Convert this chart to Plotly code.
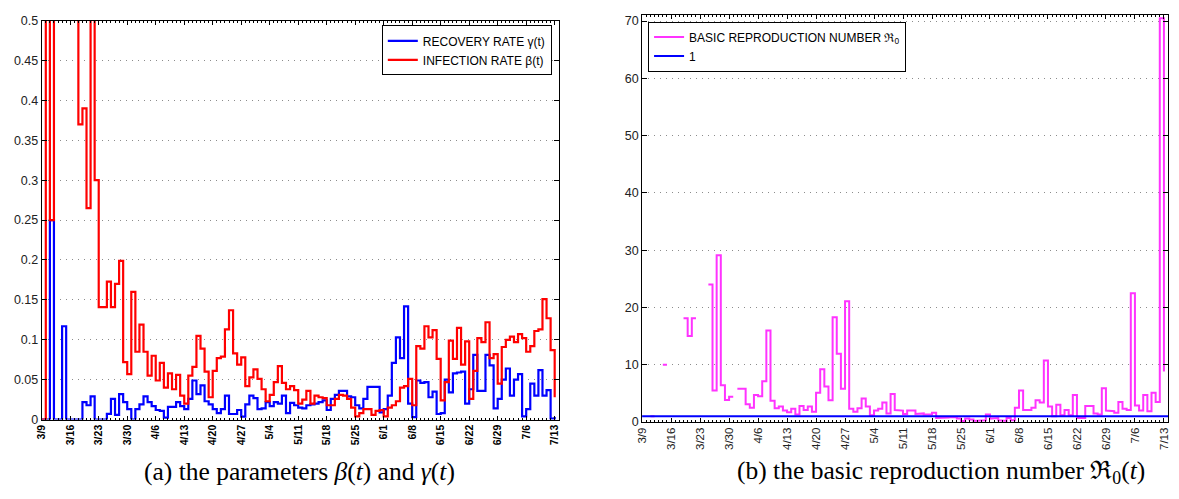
import plotly.graph_objects as go

# ---------------- data ----------------
tick_labels = ["3/9", "3/16", "3/23", "3/30", "4/6", "4/13", "4/20", "4/27", "5/4", "5/11",
               "5/18", "5/25", "6/1", "6/8", "6/15", "6/22", "6/29", "7/6", "7/13"]
tick_days = [0, 7, 14, 21, 28, 35, 42, 49, 56, 63, 70, 77, 84, 91, 98, 105, 112, 119, 126]

# infection rate beta(t), one value per day from 3/9 to 7/13
beta = [0, 1.0, 0.25, 1.0, 1.0, 1.17, 1.0, 1.0, 1.0, 0.37,
        0.39, 0.265, 0.525, 0.30, 0.141, 0.141, 0.173, 0.141, 0.170, 0.199,
        0.072, 0.057, 0.160, 0.085, 0.119, 0.085, 0.055, 0.080, 0.049, 0.071,
        0.040, 0.058, 0.038, 0.056, 0.030, 0.020, 0.055, 0.066, 0.105, 0.089,
        0.060, 0.028, 0.061, 0.077, 0.079, 0.113, 0.137, 0.083, 0.069, 0.078,
        0.042, 0.053, 0.063, 0.051, 0.038, 0.023, 0.031, 0.047, 0.067, 0.046,
        0.038, 0.042, 0.037, 0.020, 0.025, 0.036, 0.020, 0.030, 0.028, 0.027,
        0.018, 0.018, 0.026, 0.031, 0.030, 0.026, 0.015, 0.004, 0.008, 0.013,
        0.013, 0.006, 0.011, 0.012, 0.004, 0.015, 0.018, 0.023, 0.040, 0.042,
        0.051, 0.018, 0.092, 0.089, 0.117, 0.103, 0.112, 0.076, 0.024, 0.047,
        0.099, 0.076, 0.115, 0.069, 0.098, 0.026, 0.061, 0.102, 0.097, 0.122,
        0.077, 0.082, 0.045, 0.091, 0.100, 0.104, 0.097, 0.107, 0.102, 0.085,
        0.092, 0.111, 0.113, 0.151, 0.127, 0.087, 0.028]

# recovery rate gamma(t)
gamma = [0, 0, 0.25, 0, 0, 0.117, 0, 0, 0, 0,
         0.022, 0.018, 0.029, 0, 0, 0, 0.0072, 0.026, 0.006, 0.032,
         0.022, 0.013, 0, 0.013, 0.019, 0.029, 0.022, 0.017, 0.012, 0.011,
         0.0025, 0.016, 0.016, 0.022, 0.017, 0.013, 0.026, 0.049, 0.032, 0.043,
         0.023, 0.019, 0.013, 0.008, 0.013, 0.030, 0.007, 0.007, 0.012, 0.0037,
         0.019, 0.030, 0.027, 0.013, 0.014, 0.022, 0.017, 0.022, 0.020, 0.030,
         0.008, 0.021, 0.018, 0.015, 0.014, 0.018, 0.019, 0.020, 0.022, 0.024,
         0.012, 0.026, 0.031, 0.036, 0.036, 0.029, 0.028, 0.018, 0.014, 0.026,
         0.041, 0.041, 0.041, 0.009, 0.013, 0.030, 0.071, 0.103, 0.077, 0.142,
         0.020, 0.003, 0.049, 0.046, 0.047, 0.028, 0.035, 0.007, 0.008, 0.050,
         0.034, 0.058, 0.059, 0.060, 0.020, 0.038, 0.081, 0.036, 0.036, 0.081,
         0.068, 0.014, 0.026, 0.050, 0.064, 0.030, 0.050, 0.057, 0.004, 0.013,
         0.045, 0.030, 0.062, 0.030, 0.037, 0.0012, 0.0032]

# basic reproduction number R0(t) (None = undefined / infinite)
r0 = [None, None, 1.0, None, None, 10.0, None, None, None, None,
      18.1, 15.0, 18.1, None, None, None, 24.0, 5.5, 29.1, 6.4,
      3.85, 4.4, None, 5.8, 5.8, 3.1, 2.5, 4.7, 4.5, 7.1,
      16.0, 3.7, 2.4, 2.7, 2.0, 1.7, 2.3, 1.3, 2.8, 2.1,
      2.7, 1.8, 5.1, 9.2, 6.2, 3.8, 18.3, 11.9, 5.8, 21.1,
      2.3, 1.8, 2.4, 4.1, 2.7, 1.2, 2.0, 2.3, 3.4, 1.5,
      4.9, 2.1, 2.0, 1.4, 2.0, 2.0, 1.4, 1.5, 1.3, 1.3,
      1.6, 0.7, 0.7, 0.8, 0.85, 0.85, 0.6, 0.2, 0.6, 0.45,
      0.2, 0.2, 0.3, 1.3, 0.6, 0.7, 0.3, 0.2, 0.7, 0.3,
      2.5, 5.5, 2.1, 2.1, 2.5, 3.8, 3.4, 10.75, 2.7, 1.0,
      3.0, 1.2, 2.1, 1.2, 4.7, 0.7, 0.7, 2.8, 2.8, 1.5,
      1.3, 5.9, 2.0, 1.9, 1.6, 3.5, 2.3, 2.1, 22.5, 2.9,
      2.0, 4.7, 1.9, 5.1, 3.5, 70.5, 8.8]

threshold = 1

days = list(range(len(beta)))
x_end = len(beta)


def stair_path(vals):
    """MATLAB-style stairs path that skips undefined values."""
    xs, ys = [], []
    prev = None
    n = len(vals)
    for i, v in enumerate(vals):
        if v is None:
            prev = None
            continue
        if prev is None and xs:
            xs.append(None)
            ys.append(None)
        xs.append(i)
        ys.append(v)
        if i < n - 1:
            xs.append(i + 1)
            ys.append(v)
        prev = v
    return xs, ys


fig = go.Figure()

fig.add_trace(go.Scatter(x=days, y=gamma, mode="lines", line=dict(color="#0000FF", width=2.2, shape="hv"),
                         name="RECOVERY RATE γ(t)", xaxis="x", yaxis="y", legend="legend"))
fig.add_trace(go.Scatter(x=days, y=beta, mode="lines", line=dict(color="#FF0000", width=2.2, shape="hv"),
                         name="INFECTION RATE β(t)", xaxis="x", yaxis="y", legend="legend"))

rx, ry = stair_path(r0)
fig.add_trace(go.Scatter(x=rx, y=ry, mode="lines", line=dict(color="#FF33FF", width=2),
                         connectgaps=False,
                         name="BASIC REPRODUCTION NUMBER ℜ<sub>0</sub>", xaxis="x2", yaxis="y2",
                         legend="legend2"))
fig.add_trace(go.Scatter(x=[0, x_end], y=[threshold, threshold], mode="lines",
                         line=dict(color="#0000FF", width=2),
                         name="1", xaxis="x2", yaxis="y2", legend="legend2"))

W, H = 1179, 499
tick_font = dict(family="Liberation Sans, Arial, sans-serif", size=12.5, color="#222222")

common_x = dict(range=[0, x_end], tickmode="array", tickvals=tick_days, ticktext=tick_labels,
                tickangle=-90, ticks="inside", ticklen=4, tickcolor="black",
                showline=True, linecolor="black", linewidth=1, mirror="ticks",
                showgrid=False, zeroline=False,
                minor=dict(dtick=1, tick0=0, ticks="inside", ticklen=2, tickcolor="black", showgrid=False))
common_y = dict(ticks="inside", ticklen=5, tickcolor="black", showline=True, linecolor="black",
                linewidth=1, mirror="ticks", showgrid=True, gridcolor="#8c8c8c", griddash="1px,5px",
                gridwidth=1, zeroline=False, tickfont=tick_font)

fig.update_layout(
    width=W, height=H, margin=dict(l=0, r=0, t=0, b=0),
    paper_bgcolor="white", plot_bgcolor="white",
    xaxis=dict(domain=[35 / W, 556 / W], anchor="y",
               tickfont=dict(family="Liberation Sans, Arial, sans-serif", size=10.5, color="black",
                             weight="bold"), **common_x),
    yaxis=dict(domain=[1 - 424.5 / H, 1 - 14 / H], anchor="x", range=[0, 0.5], tick0=0, dtick=0.05,
               **common_y),
    xaxis2=dict(domain=[640 / W, 1170 / W], anchor="y2",
                tickfont=dict(family="Liberation Sans, Arial, sans-serif", size=11.5, color="#222222"),
                **common_x),
    yaxis2=dict(domain=[1 - 427 / H, 1 - 8.3 / H], anchor="x2", range=[0, 71.05], tick0=0, dtick=10,
                **common_y),
    legend=dict(x=549 / W, y=1 - 19 / H, xanchor="right", yanchor="top", bgcolor="white",
                bordercolor="black", borderwidth=1, tracegroupgap=0, itemwidth=30,
                font=dict(family="Liberation Sans, Arial, sans-serif", size=12, color="black")),
    legend2=dict(x=646 / W, y=1 - 15 / H, xanchor="left", yanchor="top", bgcolor="white",
                 bordercolor="black", borderwidth=1, tracegroupgap=0, itemwidth=30,
                 font=dict(family="Liberation Sans, Arial, sans-serif", size=12, color="black")),
    annotations=[
        dict(text="(a) the parameters <i>β</i>(<i>t</i>) and <i>γ</i>(<i>t</i>)", xref="paper", yref="paper",
             x=295 / W, y=1 - 478 / H, xanchor="center", yanchor="middle", showarrow=False,
             font=dict(family="Liberation Serif, Times New Roman, serif", size=25.5, color="black")),
        dict(text="(b) the basic reproduction number ℜ<sub>0</sub>(<i>t</i>)", xref="paper", yref="paper",
             x=941 / W, y=1 - 478 / H, xanchor="center", yanchor="middle", showarrow=False,
             font=dict(family="Liberation Serif, Times New Roman, serif", size=25.5, color="black")),
    ],
)

fig.write_html("out.html")
